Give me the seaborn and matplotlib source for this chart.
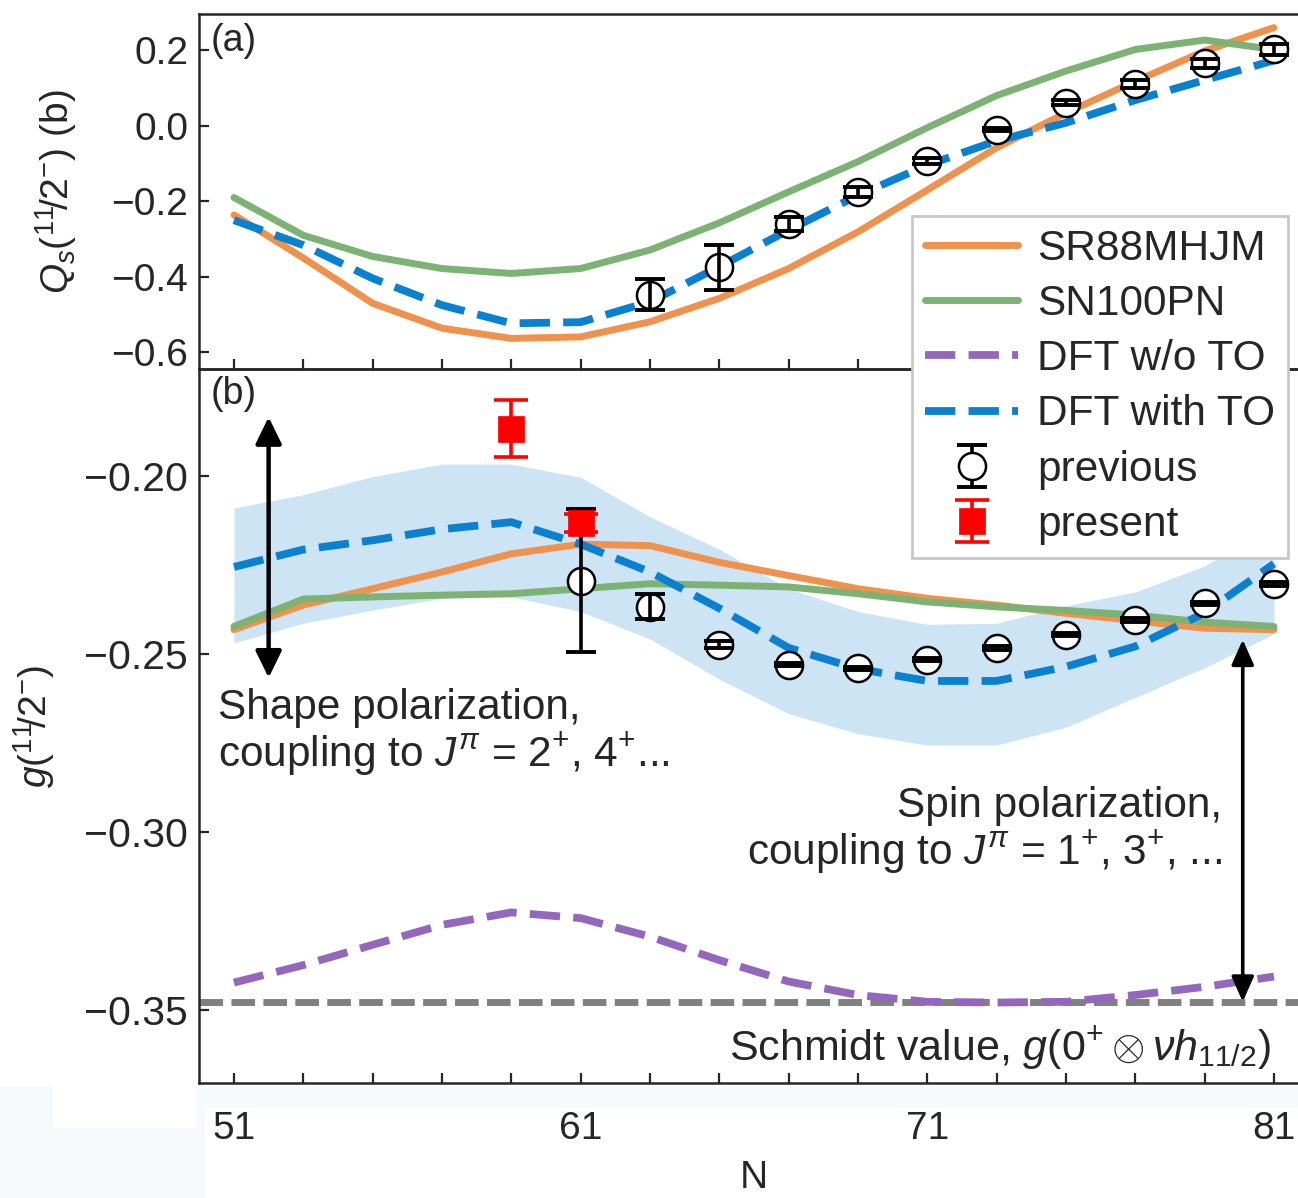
import numpy as np
import pandas as pd
import matplotlib
matplotlib.use("Agg")
import matplotlib.pyplot as plt
from matplotlib.patches import Rectangle
import seaborn as sns

# ---------------- data ----------------
N = [51, 53, 55, 57, 59, 61, 63, 65, 67, 69, 71, 73, 75, 77, 79, 81]

# panel (a): quadrupole moments
qs_sr88 = [-0.236, -0.350, -0.470, -0.536, -0.563, -0.559, -0.519, -0.457,
           -0.378, -0.281, -0.170, -0.058, 0.034, 0.118, 0.198, 0.260]
qs_sn100 = [-0.190, -0.290, -0.346, -0.378, -0.391, -0.378, -0.329, -0.257,
            -0.175, -0.095, -0.005, 0.080, 0.145, 0.202, 0.227, 0.202]
qs_dft_to = [-0.250, -0.316, -0.404, -0.475, -0.523, -0.520, -0.466, -0.373,
             -0.276, -0.184, -0.104, -0.040, 0.008, 0.068, 0.121, 0.173]
qs_prev_N = [63, 65, 67, 69, 71, 73, 75, 77, 79, 81]
qs_prev = [-0.447, -0.375, -0.260, -0.175, -0.093, -0.011, 0.061, 0.111, 0.165, 0.202]
qs_prev_err = [0.041, 0.059, 0.018, 0.013, 0.008, 0.004, 0.006, 0.011, 0.013, 0.014]

# panel (b): g factors
g_sr88 = [-0.2432, -0.2363, -0.2317, -0.2270, -0.2219, -0.2192, -0.2196, -0.2243,
          -0.2280, -0.2317, -0.2344, -0.2363, -0.2386, -0.2407, -0.2428, -0.2432]
g_sn100 = [-0.2423, -0.2346, -0.2340, -0.2335, -0.2331, -0.2317, -0.2303, -0.2307,
           -0.2312, -0.2331, -0.2354, -0.2368, -0.2378, -0.2391, -0.2411, -0.2423]
g_dft_noto = [-0.3423, -0.3374, -0.3317, -0.3261, -0.3226, -0.3242, -0.3294, -0.3360,
              -0.3420, -0.3458, -0.3477, -0.3479, -0.3477, -0.3458, -0.3435, -0.3406]
g_dft_to = [-0.2256, -0.2207, -0.2181, -0.2150, -0.2130, -0.2192, -0.2270, -0.2372,
            -0.2483, -0.2542, -0.2576, -0.2576, -0.2536, -0.2479, -0.2385, -0.2247]
g_to_upper = [-0.2090, -0.2053, -0.2002, -0.1967, -0.1967, -0.2004, -0.2115, -0.2206,
              -0.2317, -0.2381, -0.2417, -0.2414, -0.2365, -0.2326, -0.2253, -0.2140]
g_to_lower = [-0.2469, -0.2414, -0.2377, -0.2344, -0.2340, -0.2381, -0.2458, -0.2571,
              -0.2668, -0.2724, -0.2756, -0.2756, -0.2706, -0.2622, -0.2539, -0.2444]
g_prev_N = [61, 63, 65, 67, 69, 71, 73, 75, 77, 79, 81]
g_prev = [-0.2294, -0.2368, -0.2474, -0.2530, -0.2541, -0.2516, -0.2483, -0.2446,
          -0.2405, -0.2358, -0.2303]
g_prev_err = [0.020, 0.0035, 0.001, 0.0005, 0.0005, 0.0005, 0.0005, 0.0005,
              0.0005, 0.0005, 0.0005]
g_pres_N = [59, 61]
g_pres = [-0.1868, -0.2133]
g_pres_err = [0.008, 0.0025]
g_schmidt = -0.3478

labels = ["SR88MHJM", "SN100PN", "DFT w/o TO", "DFT with TO", "previous", "present"]

# ---------------- style ----------------
sns.set_style("ticks")
plt.rcParams["font.family"] = ["Liberation Sans", "DejaVu Sans"]
plt.rcParams["mathtext.fontset"] = "custom"
plt.rcParams["mathtext.rm"] = "Liberation Sans"
plt.rcParams["mathtext.it"] = "Liberation Sans:italic"
plt.rcParams["mathtext.bf"] = "Liberation Sans:bold"
plt.rcParams["axes.linewidth"] = 1.8

C_OR = "#EE924D"
C_GR = "#7CB273"
C_BL = "#0A80D0"
C_PU = "#9467BD"
C_BAND = "#CDE4F4"
FS = 28
FS_TXT = 30.5
LW = 5.0
LWD = 5.6
DASH = (0, (3.9, 1.7))

W, H = 1298, 1198
fig = plt.figure(figsize=(W / 100, H / 100), dpi=100)

# faint background patches of the original scan
tint = "#f6fafc"
for (x0, y0, x1, y1) in [(0, 1087, 205, 1198), (205, 1087, 1298, 1108)]:
    fig.patches.append(Rectangle((x0 / W, 1 - y1 / H), (x1 - x0) / W, (y1 - y0) / H,
                                 transform=fig.transFigure, color=tint, lw=0, zorder=-5))
fig.patches.append(Rectangle((53 / W, 1 - 1128 / H), (196 - 53) / W, (1128 - 1087) / H,
                             transform=fig.transFigure, color="white", lw=0, zorder=-4))


def rect(x0, y0, x1, y1):
    return [x0 / W, 1 - y1 / H, (x1 - x0) / W, (y1 - y0) / H]


ax1 = fig.add_axes(rect(199.3, 14, 1308.6, 369))
ax2 = fig.add_axes(rect(199.3, 369, 1308.6, 1083), sharex=ax1)
for ax in (ax1, ax2):
    ax.patch.set_alpha(0)


def style_errorbar(eb, mew, cap_lw, z):
    eb[0].set_markeredgewidth(mew)
    eb[0].set_zorder(z)
    for c in eb[1]:
        c.set_markeredgewidth(cap_lw)
        c.set_zorder(z + 0.5)
    for b in eb[2]:
        b.set_zorder(z + 0.5)


# ---------------- panel (a) ----------------
sns.lineplot(x=N, y=qs_sr88, ax=ax1, color=C_OR, lw=LW, legend=False)
sns.lineplot(x=N, y=qs_sn100, ax=ax1, color=C_GR, lw=LW, legend=False)
sns.lineplot(x=N, y=qs_dft_to, ax=ax1, color=C_BL, lw=LWD, ls=DASH, legend=False)
eb_a = ax1.errorbar(qs_prev_N, qs_prev, yerr=qs_prev_err, fmt="o", ms=19.5, mfc="white",
                    mec="black", ecolor="black", elinewidth=2.6, capsize=10.5)
style_errorbar(eb_a, 1.8, 2.8, 5)

# ---------------- panel (b) ----------------
ax2.fill_between(N, g_to_lower, g_to_upper, color=C_BAND, lw=0, zorder=0.5)
l_or = sns.lineplot(x=N, y=g_sr88, ax=ax2, color=C_OR, lw=LW, legend=False).lines[-1]
l_gr = sns.lineplot(x=N, y=g_sn100, ax=ax2, color=C_GR, lw=LW, legend=False).lines[-1]
l_pu = sns.lineplot(x=N, y=g_dft_noto, ax=ax2, color=C_PU, lw=LWD, ls=DASH, legend=False).lines[-1]
l_bl = sns.lineplot(x=N, y=g_dft_to, ax=ax2, color=C_BL, lw=LWD, ls=DASH, legend=False).lines[-1]
ax2.axhline(g_schmidt, color="#808080", lw=5, ls=(0, (3.4, 1.2)), zorder=1.5)
eb_prev = ax2.errorbar(g_prev_N, g_prev, yerr=g_prev_err, fmt="o", ms=19.5, mfc="white",
                       mec="black", ecolor="black", elinewidth=2.6, capsize=10.5)
style_errorbar(eb_prev, 1.8, 2.8, 5)
eb_pres = ax2.errorbar(g_pres_N, g_pres, yerr=g_pres_err, fmt="s", ms=19, mfc="red",
                       mec="red", ecolor="red", elinewidth=2.6, capsize=12)
style_errorbar(eb_pres, 0.5, 2.6, 6)

# annotations
ax2.annotate("", xy=(52.0, -0.2567), xytext=(52.0, -0.1835),
             arrowprops=dict(arrowstyle="<|-|>,head_length=0.45,head_width=0.22",
                             lw=3.2, color="black", mutation_scale=36,
                             shrinkA=0, shrinkB=0))
ax2.annotate("", xy=(80.1, -0.3477), xytext=(80.1, -0.2460),
             arrowprops=dict(arrowstyle="<|-|>,head_length=0.45,head_width=0.2",
                             lw=2.6, color="black", mutation_scale=34,
                             shrinkA=0, shrinkB=0))
ax2.text(50.55, -0.2722, "Shape polarization,\ncoupling to $J^{\\pi}$ = 2$^{+}$, 4$^{+}$...",
         ha="left", va="center", fontsize=FS_TXT, linespacing=1.05)
ax2.text(79.5, -0.2997, "Spin polarization,\ncoupling to $J^{\\pi}$ = 1$^{+}$, 3$^{+}$, ...",
         ha="right", va="center", fontsize=FS_TXT, linespacing=1.05, multialignment="right")
ax2.text(80.9, -0.3607, "Schmidt value, $g(0^{+}\\otimes\\nu h_{11/2})$",
         ha="right", va="center", fontsize=FS_TXT + 0.5)

ax1.text(0.01, 0.975, "(a)", transform=ax1.transAxes, ha="left", va="top", fontsize=FS - 1)
ax2.text(0.01, 0.99, "(b)", transform=ax2.transAxes, ha="left", va="top", fontsize=FS - 1)

# ---------------- axes ----------------
ax1.set_xlim(50, 82)
ax1.set_ylim(-0.644, 0.296)
ax2.set_ylim(-0.3705, -0.170)

ax2.set_xticks([51, 61, 71, 81])
ax2.set_xticks(N, minor=True)
ax1.set_yticks([-0.6, -0.4, -0.2, 0.0, 0.2])
ax2.set_yticks([-0.35, -0.30, -0.25, -0.20])

for ax in (ax1, ax2):
    ax.spines["right"].set_visible(False)
    ax.tick_params(axis="both", which="both", direction="in", length=7, width=1.6,
                   labelsize=FS, top=False, right=False)
    ax.tick_params(axis="y", pad=8)
ax2.tick_params(axis="y", labelsize=FS + 1.5)
ax1.tick_params(axis="x", which="both", labelbottom=False)
ax2.tick_params(axis="x", which="both", pad=20)

ax1.set_ylabel("$Q_s(^{11}\\!/2^{-})$ (b)", fontsize=FS)
ax2.set_ylabel("$g(^{11}\\!/2^{-})$", fontsize=FS)
ax1.yaxis.set_label_coords(-0.108, 0.5)
ax2.yaxis.set_label_coords(-0.128, 0.5)
ax2.set_xlabel("N", fontsize=FS)
ax2.xaxis.set_label_coords(0.5, -0.108)

# ---------------- legend ----------------
handles = [l_or, l_gr, l_pu, l_bl, eb_prev, eb_pres]
leg = fig.legend(handles, labels, loc="upper right",
                 bbox_to_anchor=(1288 / W, 1 - 216 / H), bbox_transform=fig.transFigure,
                 frameon=True, fancybox=False, edgecolor="#c8c8c8", framealpha=1,
                 borderpad=0.3, labelspacing=0.36, handlelength=2.2,
                 handletextpad=0.45, borderaxespad=0, fontsize=30.5)
leg.get_frame().set_linewidth(2)

fig.savefig("out.png", dpi=100)
